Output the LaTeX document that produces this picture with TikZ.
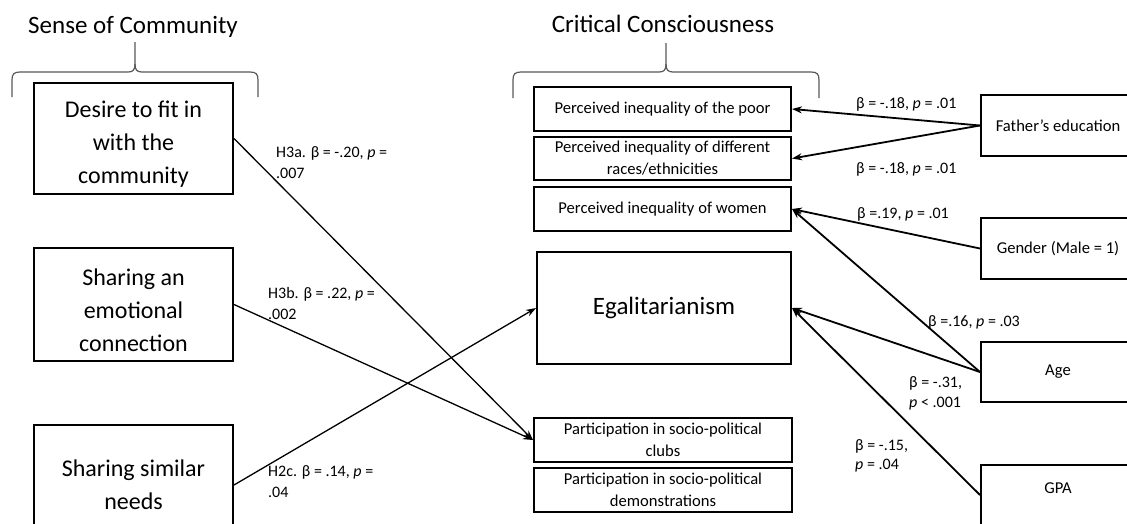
\documentclass[tikz,border=0pt]{standalone}
\usepackage{fontspec}
\setmainfont{Carlito}
\usetikzlibrary{arrows.meta}
\newcommand{\tallstrut}{\rule{0pt}{28pt}}
\tikzset{
  bigbox/.style={draw, line width=2pt, inner sep=0pt, align=center, font=\fontsize{24}{33}\selectfont},
  smallbox/.style={draw, line width=2pt, inner sep=0pt, align=center, font=\fontsize{16.6}{22}\selectfont},
  rbox/.style={draw, line width=2pt, inner sep=0pt, align=center, font=\fontsize{16.6}{22}\selectfont, minimum width=154pt},
  header/.style={font=\fontsize{25}{30}\selectfont, inner sep=0pt, anchor=base},
  lbl/.style={font=\fontsize{16}{21}\selectfont, inner sep=0pt, anchor=base west, align=left},
  conn/.style={line width=1.3pt, -{Stealth[length=10pt,width=7pt]}},
  connr/.style={line width=1.8pt, -{Stealth[length=10pt,width=7pt]}},
  bracepath/.style={draw=black!65, line width=1.2pt},
}
\begin{document}
\begin{tikzpicture}[x=1pt,y=-1pt]
\useasboundingbox (0,0) rectangle (1127,523);
\clip (0,0) rectangle (1127,523);
\fill[white] (0,0) rectangle (1127,523);

% headers
\node[header] (hsoc) at (133,33) {Sense of Community};
\node[header] (hcc) at (663,32) {Critical Consciousness};

% braces
\draw[bracepath] (12,97) -- (12,80) .. controls (12,74) and (14,72) .. (20,72) -- (128,72)
  .. controls (133,72) and (135,70) .. (135,64) -- (135,42);
\draw[bracepath] (135,64) .. controls (135,70) and (137,72) .. (142,72) -- (250,72)
  .. controls (256,72) and (258,74) .. (258,80) -- (258,97);
\draw[bracepath] (513,98) -- (513,80) .. controls (513,74) and (515,72) .. (521,72) -- (659,72)
  .. controls (664,72) and (666,70) .. (666,64) -- (666,43);
\draw[bracepath] (666,64) .. controls (666,70) and (668,72) .. (673,72) -- (811,72)
  .. controls (817,72) and (819,74) .. (819,80) -- (819,98);

% left boxes
\node[bigbox, minimum width=199pt, minimum height=111pt] (desire) at (133.5,138.5) {\tallstrut Desire to fit in\\with the\\community};
\node[bigbox, minimum width=199pt, minimum height=113pt] (emot) at (133.5,304.5) {\tallstrut Sharing an\\emotional\\connection};
\node[bigbox, minimum width=199pt, minimum height=120pt] (needs) at (133.5,485) {Sharing similar\\needs};

% middle boxes
\node[smallbox, minimum width=257pt, minimum height=44pt] (poor) at (662.5,109) {Perceived inequality of the poor};
\node[smallbox, minimum width=257pt, minimum height=43pt] (races) at (662.5,158.5) {Perceived inequality of different\\races/ethnicities};
\node[smallbox, minimum width=257pt, minimum height=44pt] (women) at (662.5,209) {Perceived inequality of women};
\node[bigbox, font=\fontsize{25}{30}\selectfont, minimum width=254pt, minimum height=112pt] (egal) at (664,308) {Egalitarianism};
\node[smallbox, minimum width=258pt, minimum height=44pt] (clubs) at (663,440) {Participation in socio-political\\clubs};
\node[smallbox, minimum width=258pt, minimum height=44pt] (demo) at (663,490) {Participation in socio-political\\demonstrations};

% right boxes
\node[rbox, minimum height=61pt] (father) at (1058,125.5) {Father’s education};
\node[rbox, minimum height=61pt] (gender) at (1058,248.5) {Gender (Male = 1)};
\node[rbox, minimum height=60pt] (age) at (1058,372) {Age};
\node[rbox, minimum height=60pt] (gpa) at (1058,495) {};
\node[font=\fontsize{16.6}{22}\selectfont, inner sep=0pt, anchor=base] (gpalbl) at (1058,493) {GPA};

% connectors
\draw[conn] (desire.east) -- (clubs.west);
\draw[conn] (emot.east) -- (clubs.west);
\draw[conn] (needs.east) -- (egal.west);
\draw[connr] (father.west) -- (poor.east);
\draw[connr] (father.west) -- (races.east);
\draw[connr] (gender.west) -- (women.east);
\draw[connr] (age.west) -- (women.east);
\draw[connr] (age.west) -- (egal.east);
\draw[connr] (gpa.west) -- (egal.east);

% labels (base = last line)
\node[lbl] (l3a) at (276,178) {H3a. β = -.20, \textit{p} =\\.007};
\node[lbl] (l3b) at (268,319) {H3b. β = .22, \textit{p} =\\.002};
\node[lbl] (l2c) at (268,497) {H2c. β = .14, \textit{p} =\\.04};
\node[lbl] (lf1) at (856,108) {β = -.18, \textit{p} = .01};
\node[lbl] (lf2) at (856,173) {β = -.18, \textit{p} = .01};
\node[lbl] (lg) at (857,218) {β =.19, \textit{p} = .01};
\node[lbl] (la1) at (928,326) {β =.16, \textit{p} = .03};
\node[lbl, font=\fontsize{16}{20}\selectfont] (la2) at (909,407) {β = -.31,\\\textit{p} < .001};
\node[lbl, font=\fontsize{16}{19}\selectfont] (lgpa) at (855,469) {β = -.15,\\\textit{p} = .04};
\end{tikzpicture}
\end{document}
